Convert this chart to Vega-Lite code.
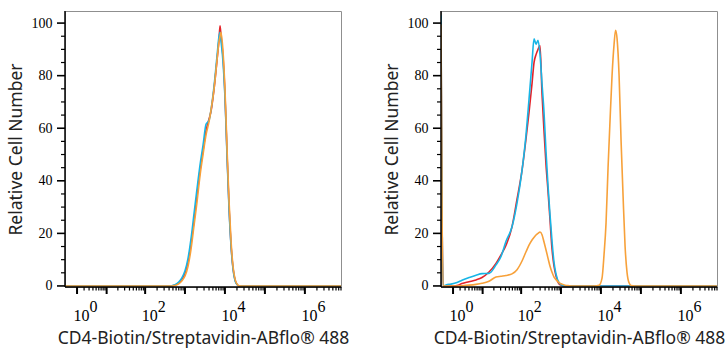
{
  "$schema": "https://vega.github.io/schema/vega-lite/v6.json",
  "background": "white",
  "padding": {"left": 6, "top": 9, "right": 5, "bottom": 5},
  "spacing": 100,
  "bounds": "flush",
  "config": {
    "view": {"stroke": "#8f8f8f", "strokeWidth": 1},
    "axis": {"grid": false, "ticks": false, "domain": false,
      "labelFont": "Liberation Serif", "labelColor": "black", "labelOverlap": false, "labelFlush": false, "labelBound": false,
      "titleFont": "Noto Sans", "titleFontSize": 17.5, "titleFontWeight": "normal", "titleColor": "#222"}
  },
  "datasets": {
    "xmaj": [{"v":1},{"v":10},{"v":100},{"v":1000},{"v":10000},{"v":100000},{"v":1000000}],
    "xmin": [{"v":2},{"v":3},{"v":4},{"v":5},{"v":6},{"v":7},{"v":8},{"v":9},{"v":20},{"v":30},{"v":40},{"v":50},{"v":60},{"v":70},{"v":80},{"v":90},
             {"v":200},{"v":300},{"v":400},{"v":500},{"v":600},{"v":700},{"v":800},{"v":900},{"v":2000},{"v":3000},{"v":4000},{"v":5000},{"v":6000},{"v":7000},{"v":8000},{"v":9000},
             {"v":20000},{"v":30000},{"v":40000},{"v":50000},{"v":60000},{"v":70000},{"v":80000},{"v":90000},{"v":200000},{"v":300000},{"v":400000},{"v":500000},{"v":600000},{"v":700000},{"v":800000},{"v":900000},
             {"v":2000000},{"v":3000000},{"v":4000000},{"v":5000000},{"v":6000000},{"v":7000000},{"v":8000000}],
    "ymaj": [{"v":0},{"v":20},{"v":40},{"v":60},{"v":80},{"v":100}],
    "ymin": [{"v":5},{"v":10},{"v":15},{"v":25},{"v":30},{"v":35},{"v":45},{"v":50},{"v":55},{"v":65},{"v":70},{"v":75},{"v":85},{"v":90},{"v":95}],
    "one": [{"k":1}]
  },
  "data": {"values": [
    {"p":"L","s":"red","x":0,"y":0},{"p":"L","s":"red","x":6.1,"y":0},{"p":"L","s":"red","x":70,"y":0},{"p":"L","s":"red","x":299,"y":0},
    {"p":"L","s":"red","x":399,"y":0},{"p":"L","s":"red","x":563,"y":0.3},{"p":"L","s":"red","x":710,"y":1.2},{"p":"L","s":"red","x":845,"y":2.6},
    {"p":"L","s":"red","x":1003,"y":4.8},{"p":"L","s":"red","x":1193,"y":9},{"p":"L","s":"red","x":1418,"y":16},{"p":"L","s":"red","x":1687,"y":25},
    {"p":"L","s":"red","x":2005,"y":34.5},{"p":"L","s":"red","x":2382,"y":44},{"p":"L","s":"red","x":2832,"y":51.5},{"p":"L","s":"red","x":3367,"y":59},
    {"p":"L","s":"red","x":4002,"y":63.5},{"p":"L","s":"red","x":4491,"y":66.5},{"p":"L","s":"red","x":5343,"y":75},{"p":"L","s":"red","x":6348,"y":86},
    {"p":"L","s":"red","x":7122,"y":94},{"p":"L","s":"red","x":7550,"y":99},{"p":"L","s":"red","x":7997,"y":95},{"p":"L","s":"red","x":8977,"y":87},
    {"p":"L","s":"red","x":10077,"y":72},{"p":"L","s":"red","x":11306,"y":50},{"p":"L","s":"red","x":12690,"y":30},{"p":"L","s":"red","x":14240,"y":15.5},
    {"p":"L","s":"red","x":15985,"y":6.6},{"p":"L","s":"red","x":17940,"y":2.2},{"p":"L","s":"red","x":20140,"y":0.5},{"p":"L","s":"red","x":22600,"y":0},
    {"p":"L","s":"red","x":30065,"y":0},{"p":"L","s":"red","x":71500,"y":0},{"p":"L","s":"red","x":716000,"y":0},{"p":"L","s":"red","x":8000000,"y":0},

    {"p":"L","s":"cyan","x":0,"y":0},{"p":"L","s":"cyan","x":6.1,"y":0},{"p":"L","s":"cyan","x":70,"y":0},{"p":"L","s":"cyan","x":299,"y":0},
    {"p":"L","s":"cyan","x":399,"y":0},{"p":"L","s":"cyan","x":563,"y":0.5},{"p":"L","s":"cyan","x":710,"y":1.6},{"p":"L","s":"cyan","x":845,"y":3.2},
    {"p":"L","s":"cyan","x":1003,"y":5.8},{"p":"L","s":"cyan","x":1193,"y":10.5},{"p":"L","s":"cyan","x":1418,"y":18},{"p":"L","s":"cyan","x":1687,"y":27.5},
    {"p":"L","s":"cyan","x":2005,"y":37},{"p":"L","s":"cyan","x":2382,"y":46},{"p":"L","s":"cyan","x":2832,"y":53.5},{"p":"L","s":"cyan","x":3367,"y":61.5},
    {"p":"L","s":"cyan","x":4002,"y":63},{"p":"L","s":"cyan","x":4491,"y":67},{"p":"L","s":"cyan","x":5343,"y":76},{"p":"L","s":"cyan","x":6348,"y":87.5},
    {"p":"L","s":"cyan","x":7122,"y":95},{"p":"L","s":"cyan","x":7550,"y":96.5},{"p":"L","s":"cyan","x":7997,"y":93},{"p":"L","s":"cyan","x":8977,"y":85},
    {"p":"L","s":"cyan","x":10077,"y":71},{"p":"L","s":"cyan","x":11306,"y":49},{"p":"L","s":"cyan","x":12690,"y":29},{"p":"L","s":"cyan","x":14240,"y":15},
    {"p":"L","s":"cyan","x":15985,"y":6.3},{"p":"L","s":"cyan","x":17940,"y":2},{"p":"L","s":"cyan","x":20140,"y":0.5},{"p":"L","s":"cyan","x":22600,"y":0},
    {"p":"L","s":"cyan","x":30065,"y":0},{"p":"L","s":"cyan","x":71500,"y":0},{"p":"L","s":"cyan","x":716000,"y":0},{"p":"L","s":"cyan","x":8000000,"y":0},

    {"p":"L","s":"orange","x":0,"y":0},{"p":"L","s":"orange","x":6.1,"y":0},{"p":"L","s":"orange","x":70,"y":0},{"p":"L","s":"orange","x":299,"y":0},
    {"p":"L","s":"orange","x":399,"y":0},{"p":"L","s":"orange","x":563,"y":0.2},{"p":"L","s":"orange","x":710,"y":0.9},{"p":"L","s":"orange","x":845,"y":2},
    {"p":"L","s":"orange","x":1003,"y":3.8},{"p":"L","s":"orange","x":1193,"y":7.5},{"p":"L","s":"orange","x":1418,"y":14},{"p":"L","s":"orange","x":1687,"y":23},
    {"p":"L","s":"orange","x":2005,"y":32},{"p":"L","s":"orange","x":2382,"y":42},{"p":"L","s":"orange","x":2832,"y":50},{"p":"L","s":"orange","x":3367,"y":57.5},
    {"p":"L","s":"orange","x":4002,"y":62.5},{"p":"L","s":"orange","x":4491,"y":67},{"p":"L","s":"orange","x":5343,"y":75},{"p":"L","s":"orange","x":6348,"y":86},
    {"p":"L","s":"orange","x":7122,"y":93},{"p":"L","s":"orange","x":7550,"y":95},{"p":"L","s":"orange","x":7997,"y":96.5},{"p":"L","s":"orange","x":8977,"y":89},
    {"p":"L","s":"orange","x":10077,"y":74},{"p":"L","s":"orange","x":11306,"y":52},{"p":"L","s":"orange","x":12690,"y":32},{"p":"L","s":"orange","x":14240,"y":17},
    {"p":"L","s":"orange","x":15985,"y":7.3},{"p":"L","s":"orange","x":17940,"y":2.6},{"p":"L","s":"orange","x":20140,"y":0.7},{"p":"L","s":"orange","x":22600,"y":0.1},
    {"p":"L","s":"orange","x":30065,"y":0},{"p":"L","s":"orange","x":71500,"y":0},{"p":"L","s":"orange","x":716000,"y":0},{"p":"L","s":"orange","x":8000000,"y":0},

    {"p":"R","s":"red","x":0,"y":99},{"p":"R","s":"red","x":0.122,"y":0},{"p":"R","s":"red","x":0.334,"y":0},{"p":"R","s":"red","x":0.779,"y":0},
    {"p":"R","s":"red","x":1.514,"y":0.2},{"p":"R","s":"red","x":2.353,"y":0.9},{"p":"R","s":"red","x":4.018,"y":1.6},{"p":"R","s":"red","x":6.51,"y":2.3},
    {"p":"R","s":"red","x":9.61,"y":3.2},{"p":"R","s":"red","x":14.88,"y":5.3},{"p":"R","s":"red","x":22.76,"y":8.6},{"p":"R","s":"red","x":30.7,"y":11.8},
    {"p":"R","s":"red","x":41.3,"y":15.5},{"p":"R","s":"red","x":58.7,"y":22.5},{"p":"R","s":"red","x":78.7,"y":33},{"p":"R","s":"red","x":105.3,"y":44},
    {"p":"R","s":"red","x":132.8,"y":56},{"p":"R","s":"red","x":158,"y":66},{"p":"R","s":"red","x":188,"y":77},{"p":"R","s":"red","x":211.1,"y":85},
    {"p":"R","s":"red","x":237,"y":88},{"p":"R","s":"red","x":266.2,"y":90},{"p":"R","s":"red","x":298.6,"y":91.5},{"p":"R","s":"red","x":335.2,"y":73},
    {"p":"R","s":"red","x":376.3,"y":59},{"p":"R","s":"red","x":422.4,"y":46},{"p":"R","s":"red","x":474.4,"y":36},{"p":"R","s":"red","x":532.3,"y":25},
    {"p":"R","s":"red","x":597.2,"y":14},{"p":"R","s":"red","x":670,"y":7.5},{"p":"R","s":"red","x":752.4,"y":3.8},{"p":"R","s":"red","x":894.6,"y":0.8},
    {"p":"R","s":"red","x":1063,"y":0.2},{"p":"R","s":"red","x":1264,"y":0},{"p":"R","s":"red","x":1592,"y":0},{"p":"R","s":"red","x":2122,"y":0},
    {"p":"R","s":"red","x":3779,"y":0},{"p":"R","s":"red","x":6729,"y":0},{"p":"R","s":"red","x":8000000,"y":0},

    {"p":"R","s":"cyan","x":0,"y":103},{"p":"R","s":"cyan","x":0.122,"y":0},{"p":"R","s":"cyan","x":0.334,"y":0.4},{"p":"R","s":"cyan","x":0.779,"y":0.7},
    {"p":"R","s":"cyan","x":1.514,"y":1.3},{"p":"R","s":"cyan","x":2.353,"y":2.2},{"p":"R","s":"cyan","x":4.018,"y":3.2},{"p":"R","s":"cyan","x":6.51,"y":4.1},
    {"p":"R","s":"cyan","x":9.61,"y":4.7},{"p":"R","s":"cyan","x":14.88,"y":4.8},{"p":"R","s":"cyan","x":22.76,"y":8},{"p":"R","s":"cyan","x":30.7,"y":11.2},
    {"p":"R","s":"cyan","x":41.3,"y":17},{"p":"R","s":"cyan","x":58.7,"y":22.5},{"p":"R","s":"cyan","x":78.7,"y":31.5},{"p":"R","s":"cyan","x":105.3,"y":44},
    {"p":"R","s":"cyan","x":132.8,"y":57.5},{"p":"R","s":"cyan","x":158,"y":71},{"p":"R","s":"cyan","x":188,"y":85},{"p":"R","s":"cyan","x":211.1,"y":94},
    {"p":"R","s":"cyan","x":237,"y":92},{"p":"R","s":"cyan","x":266.2,"y":93.5},{"p":"R","s":"cyan","x":298.6,"y":88},{"p":"R","s":"cyan","x":335.2,"y":77},
    {"p":"R","s":"cyan","x":376.3,"y":66},{"p":"R","s":"cyan","x":422.4,"y":51},{"p":"R","s":"cyan","x":474.4,"y":38},{"p":"R","s":"cyan","x":532.3,"y":27},
    {"p":"R","s":"cyan","x":597.2,"y":17},{"p":"R","s":"cyan","x":670,"y":9},{"p":"R","s":"cyan","x":752.4,"y":4.5},{"p":"R","s":"cyan","x":894.6,"y":1.2},
    {"p":"R","s":"cyan","x":1063,"y":0.3},{"p":"R","s":"cyan","x":1264,"y":0},{"p":"R","s":"cyan","x":1592,"y":0},{"p":"R","s":"cyan","x":2122,"y":0},
    {"p":"R","s":"cyan","x":3779,"y":0},{"p":"R","s":"cyan","x":6729,"y":0},{"p":"R","s":"cyan","x":8000000,"y":0},

    {"p":"R","s":"orange","x":0,"y":99.5},{"p":"R","s":"orange","x":0.122,"y":0},{"p":"R","s":"orange","x":0.334,"y":0},{"p":"R","s":"orange","x":0.779,"y":0},
    {"p":"R","s":"orange","x":1.514,"y":0},{"p":"R","s":"orange","x":2.353,"y":0.1},{"p":"R","s":"orange","x":4.018,"y":0.3},{"p":"R","s":"orange","x":6.51,"y":0.6},
    {"p":"R","s":"orange","x":9.61,"y":1},{"p":"R","s":"orange","x":14.88,"y":1.8},{"p":"R","s":"orange","x":22.76,"y":3.4},{"p":"R","s":"orange","x":30.7,"y":3.7},
    {"p":"R","s":"orange","x":41.3,"y":4},{"p":"R","s":"orange","x":58.7,"y":4.6},{"p":"R","s":"orange","x":78.7,"y":6.2},{"p":"R","s":"orange","x":105.3,"y":9.5},
    {"p":"R","s":"orange","x":132.8,"y":13},{"p":"R","s":"orange","x":158,"y":15.5},{"p":"R","s":"orange","x":188,"y":17.5},{"p":"R","s":"orange","x":211.1,"y":18.5},
    {"p":"R","s":"orange","x":237,"y":19.4},{"p":"R","s":"orange","x":266.2,"y":20},{"p":"R","s":"orange","x":298.6,"y":20.5},{"p":"R","s":"orange","x":335.2,"y":19.5},
    {"p":"R","s":"orange","x":376.3,"y":16.7},{"p":"R","s":"orange","x":422.4,"y":13.7},{"p":"R","s":"orange","x":474.4,"y":10.5},{"p":"R","s":"orange","x":532.3,"y":7.5},
    {"p":"R","s":"orange","x":597.2,"y":5.2},{"p":"R","s":"orange","x":670,"y":3.4},{"p":"R","s":"orange","x":752.4,"y":2.4},{"p":"R","s":"orange","x":894.6,"y":1.3},
    {"p":"R","s":"orange","x":1063,"y":0.7},{"p":"R","s":"orange","x":1264,"y":0.3},{"p":"R","s":"orange","x":1592,"y":0.1},{"p":"R","s":"orange","x":2122,"y":0},
    {"p":"R","s":"orange","x":3779,"y":0},{"p":"R","s":"orange","x":6729,"y":0},{"p":"R","s":"orange","x":8977,"y":0.3},{"p":"R","s":"orange","x":10660,"y":3},
    {"p":"R","s":"orange","x":11970,"y":12},{"p":"R","s":"orange","x":13427,"y":24},{"p":"R","s":"orange","x":15070,"y":45},{"p":"R","s":"orange","x":16899,"y":63},
    {"p":"R","s":"orange","x":18958,"y":80},{"p":"R","s":"orange","x":21330,"y":92},{"p":"R","s":"orange","x":23202,"y":97.3},{"p":"R","s":"orange","x":25360,"y":94},
    {"p":"R","s":"orange","x":28450,"y":80},{"p":"R","s":"orange","x":31930,"y":55},{"p":"R","s":"orange","x":35830,"y":34},{"p":"R","s":"orange","x":40210,"y":15},
    {"p":"R","s":"orange","x":45090,"y":5},{"p":"R","s":"orange","x":50461,"y":1.2},{"p":"R","s":"orange","x":56760,"y":0.2},{"p":"R","s":"orange","x":89800,"y":0},
    {"p":"R","s":"orange","x":900000,"y":0},{"p":"R","s":"orange","x":8000000,"y":0}
  ]},
  "hconcat": [
    {
      "width": 276, "height": 276,
      "resolve": {"axis": {"x": "independent", "y": "independent"}},
      "layer": [
        {"transform": [{"filter": "datum.p == 'L' && datum.s == 'red'"}], "mark": {"type": "line", "color": "#e4232a", "strokeWidth": 1.6, "interpolate": "monotone", "clip": true},
         "encoding": {
           "x": {"field": "x", "type": "quantitative",
             "scale": {"type": "symlog", "constant": 1, "domain": [0, 8000000], "nice": false, "zero": false},
             "axis": {"orient": "bottom", "title": "CD4-Biotin/Streptavidin-ABflo® 488",
               "values": [1,10,100,1000,10000,100000,1000000],
               "labelExpr": "round(log(datum.value)/LN10) % 2 == 0 ? ['\u200b\u00a0\u00a0\u00a0\u00a0' + round(log(datum.value)/LN10), '10'] : ''",
               "labelAlign": "left", "labelOffset": -4, "labelBaseline": "top", "labelLineHeight": 9,
               "labelFontSize": 16, "labelPadding": 11, "titlePadding": 6}},
           "y": {"field": "y", "type": "quantitative",
             "scale": {"domain": [-0.4, 104.6], "nice": false, "zero": false},
             "axis": {"orient": "left", "title": "Relative Cell Number", "values": [0,20,40,60,80,100],
               "labelFontSize": 14, "labelPadding": 13, "titlePadding": 6}}}},
        {"transform": [{"filter": "datum.p == 'L' && datum.s == 'cyan'"}], "mark": {"type": "line", "color": "#17b5e6", "strokeWidth": 1.6, "interpolate": "monotone", "clip": true},
         "encoding": {"x": {"field": "x", "type": "quantitative", "axis": null}, "y": {"field": "y", "type": "quantitative", "axis": null}}},
        {"transform": [{"filter": "datum.p == 'L' && datum.s == 'orange'"}], "mark": {"type": "line", "color": "#f7a13a", "strokeWidth": 1.6, "interpolate": "monotone", "clip": true},
         "encoding": {"x": {"field": "x", "type": "quantitative", "axis": null}, "y": {"field": "y", "type": "quantitative", "axis": null}}},
        {"data": {"name": "xmin"}, "transform": [{"calculate": "-0.4", "as": "lo"}, {"calculate": "-1.75", "as": "hi"}],
         "mark": {"type": "rule", "color": "black", "strokeWidth": 1.2},
         "encoding": {"x": {"field": "v", "type": "quantitative", "axis": null}, "y": {"field": "lo", "type": "quantitative", "axis": null}, "y2": {"field": "hi"}}},
        {"data": {"name": "xmaj"}, "transform": [{"calculate": "-0.4", "as": "lo"}, {"calculate": "-3.06", "as": "hi"}],
         "mark": {"type": "rule", "color": "black", "strokeWidth": 2},
         "encoding": {"x": {"field": "v", "type": "quantitative", "axis": null}, "y": {"field": "lo", "type": "quantitative", "axis": null}, "y2": {"field": "hi"}}},
        {"data": {"name": "ymin"}, "transform": [{"calculate": "0", "as": "lo"}, {"calculate": "-0.259", "as": "hi"}],
         "mark": {"type": "rule", "color": "black", "strokeWidth": 1.2},
         "encoding": {"y": {"field": "v", "type": "quantitative", "axis": null}, "x": {"field": "lo", "type": "quantitative", "axis": null}, "x2": {"field": "hi"}}},
        {"data": {"name": "ymaj"}, "transform": [{"calculate": "0", "as": "lo"}, {"calculate": "-0.586", "as": "hi"}],
         "mark": {"type": "rule", "color": "black", "strokeWidth": 1.6},
         "encoding": {"y": {"field": "v", "type": "quantitative", "axis": null}, "x": {"field": "lo", "type": "quantitative", "axis": null}, "x2": {"field": "hi"}}},
        {"data": {"name": "one"}, "transform": [{"calculate": "0", "as": "x0"}, {"calculate": "8000000", "as": "x1"}, {"calculate": "-0.4", "as": "y0"}],
         "mark": {"type": "rule", "color": "black", "strokeWidth": 1.5},
         "encoding": {"x": {"field": "x0", "type": "quantitative", "axis": null}, "x2": {"field": "x1"}, "y": {"field": "y0", "type": "quantitative", "axis": null}}},
        {"data": {"name": "one"}, "transform": [{"calculate": "0", "as": "x0"}, {"calculate": "-0.4", "as": "y0"}, {"calculate": "104.6", "as": "y1"}],
         "mark": {"type": "rule", "color": "black", "strokeWidth": 1.5},
         "encoding": {"x": {"field": "x0", "type": "quantitative", "axis": null}, "y": {"field": "y0", "type": "quantitative", "axis": null}, "y2": {"field": "y1"}}}
      ]
    },
    {
      "width": 276, "height": 276,
      "resolve": {"axis": {"x": "independent", "y": "independent"}},
      "layer": [
        {"transform": [{"filter": "datum.p == 'R' && datum.s == 'red'"}], "mark": {"type": "line", "color": "#e4232a", "strokeWidth": 1.6, "interpolate": "monotone", "clip": true},
         "encoding": {
           "x": {"field": "x", "type": "quantitative",
             "scale": {"type": "symlog", "constant": 1, "domain": [0, 8000000], "nice": false, "zero": false},
             "axis": {"orient": "bottom", "title": "CD4-Biotin/Streptavidin-ABflo® 488",
               "values": [1,10,100,1000,10000,100000,1000000],
               "labelExpr": "round(log(datum.value)/LN10) % 2 == 0 ? ['\u200b\u00a0\u00a0\u00a0\u00a0' + round(log(datum.value)/LN10), '10'] : ''",
               "labelAlign": "left", "labelOffset": -4, "labelBaseline": "top", "labelLineHeight": 9,
               "labelFontSize": 16, "labelPadding": 11, "titlePadding": 6}},
           "y": {"field": "y", "type": "quantitative",
             "scale": {"domain": [-0.4, 104.6], "nice": false, "zero": false},
             "axis": {"orient": "left", "title": "Relative Cell Number", "values": [0,20,40,60,80,100],
               "labelFontSize": 14, "labelPadding": 13, "titlePadding": 6}}}},
        {"transform": [{"filter": "datum.p == 'R' && datum.s == 'cyan'"}], "mark": {"type": "line", "color": "#17b5e6", "strokeWidth": 1.6, "interpolate": "monotone", "clip": true},
         "encoding": {"x": {"field": "x", "type": "quantitative", "axis": null}, "y": {"field": "y", "type": "quantitative", "axis": null}}},
        {"transform": [{"filter": "datum.p == 'R' && datum.s == 'orange'"}], "mark": {"type": "line", "color": "#f7a13a", "strokeWidth": 1.6, "interpolate": "monotone", "clip": true},
         "encoding": {"x": {"field": "x", "type": "quantitative", "axis": null}, "y": {"field": "y", "type": "quantitative", "axis": null}}},
        {"data": {"name": "xmin"}, "transform": [{"calculate": "-0.4", "as": "lo"}, {"calculate": "-1.75", "as": "hi"}],
         "mark": {"type": "rule", "color": "black", "strokeWidth": 1.2},
         "encoding": {"x": {"field": "v", "type": "quantitative", "axis": null}, "y": {"field": "lo", "type": "quantitative", "axis": null}, "y2": {"field": "hi"}}},
        {"data": {"name": "xmaj"}, "transform": [{"calculate": "-0.4", "as": "lo"}, {"calculate": "-3.06", "as": "hi"}],
         "mark": {"type": "rule", "color": "black", "strokeWidth": 2},
         "encoding": {"x": {"field": "v", "type": "quantitative", "axis": null}, "y": {"field": "lo", "type": "quantitative", "axis": null}, "y2": {"field": "hi"}}},
        {"data": {"name": "ymin"}, "transform": [{"calculate": "0", "as": "lo"}, {"calculate": "-0.259", "as": "hi"}],
         "mark": {"type": "rule", "color": "black", "strokeWidth": 1.2},
         "encoding": {"y": {"field": "v", "type": "quantitative", "axis": null}, "x": {"field": "lo", "type": "quantitative", "axis": null}, "x2": {"field": "hi"}}},
        {"data": {"name": "ymaj"}, "transform": [{"calculate": "0", "as": "lo"}, {"calculate": "-0.586", "as": "hi"}],
         "mark": {"type": "rule", "color": "black", "strokeWidth": 1.6},
         "encoding": {"y": {"field": "v", "type": "quantitative", "axis": null}, "x": {"field": "lo", "type": "quantitative", "axis": null}, "x2": {"field": "hi"}}},
        {"data": {"name": "one"}, "transform": [{"calculate": "0", "as": "x0"}, {"calculate": "8000000", "as": "x1"}, {"calculate": "-0.4", "as": "y0"}],
         "mark": {"type": "rule", "color": "black", "strokeWidth": 1.5},
         "encoding": {"x": {"field": "x0", "type": "quantitative", "axis": null}, "x2": {"field": "x1"}, "y": {"field": "y0", "type": "quantitative", "axis": null}}},
        {"data": {"name": "one"}, "transform": [{"calculate": "0", "as": "x0"}, {"calculate": "-0.4", "as": "y0"}, {"calculate": "104.6", "as": "y1"}],
         "mark": {"type": "rule", "color": "black", "strokeWidth": 1.5},
         "encoding": {"x": {"field": "x0", "type": "quantitative", "axis": null}, "y": {"field": "y0", "type": "quantitative", "axis": null}, "y2": {"field": "y1"}}}
      ]
    }
  ]
}
